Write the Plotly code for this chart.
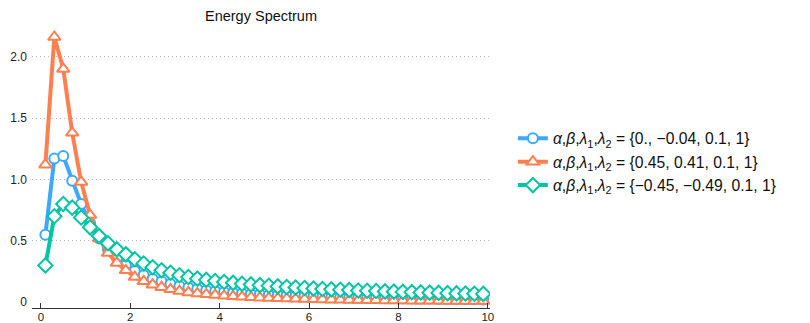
import plotly.graph_objects as go

# Wavenumber samples
k_values = [0.1, 0.3, 0.5, 0.7, 0.9, 1.1, 1.3, 1.5, 1.7, 1.9,
            2.1, 2.3, 2.5, 2.7, 2.9, 3.1, 3.3, 3.5, 3.7, 3.9,
            4.1, 4.3, 4.5, 4.7, 4.9, 5.1, 5.3, 5.5, 5.7, 5.9,
            6.1, 6.3, 6.5, 6.7, 6.9, 7.1, 7.3, 7.5, 7.7, 7.9,
            8.1, 8.3, 8.5, 8.7, 8.9, 9.1, 9.3, 9.5, 9.7, 9.9]

# Energy spectrum for each parameter set
energy_a = [0.55, 1.17, 1.19, 0.99, 0.80, 0.645, 0.52, 0.43, 0.36, 0.30,
            0.255, 0.22, 0.19, 0.168, 0.149, 0.133, 0.12, 0.108, 0.098, 0.090,
            0.083, 0.077, 0.072, 0.067, 0.063, 0.059, 0.056, 0.053, 0.050, 0.048,
            0.046, 0.044, 0.042, 0.040, 0.038, 0.037, 0.035, 0.034, 0.033, 0.032,
            0.031, 0.030, 0.029, 0.028, 0.027, 0.026, 0.025, 0.025, 0.024, 0.023]

energy_b = [1.12, 2.16, 1.90, 1.38, 0.98, 0.71, 0.52, 0.40, 0.32, 0.26,
            0.205, 0.17, 0.143, 0.122, 0.105, 0.091, 0.080, 0.071, 0.064, 0.058,
            0.052, 0.048, 0.044, 0.040, 0.037, 0.034, 0.032, 0.030, 0.028, 0.026,
            0.024, 0.023, 0.021, 0.020, 0.019, 0.018, 0.017, 0.016, 0.015, 0.0145,
            0.014, 0.013, 0.0125, 0.012, 0.0115, 0.011, 0.0105, 0.010, 0.0095, 0.009]

energy_c = [0.30, 0.70, 0.80, 0.77, 0.69, 0.61, 0.54, 0.48, 0.43, 0.39,
            0.35, 0.315, 0.285, 0.26, 0.24, 0.22, 0.205, 0.192, 0.182, 0.173,
            0.165, 0.158, 0.151, 0.145, 0.139, 0.134, 0.129, 0.124, 0.120, 0.116,
            0.112, 0.108, 0.105, 0.102, 0.099, 0.096, 0.093, 0.091, 0.088, 0.086,
            0.084, 0.082, 0.080, 0.078, 0.076, 0.074, 0.072, 0.071, 0.069, 0.068]

series_labels = [
    "<i>α</i>,<i>β</i>,<i>λ</i><sub>1</sub>,<i>λ</i><sub>2</sub> = {0., −0.04, 0.1, 1}",
    "<i>α</i>,<i>β</i>,<i>λ</i><sub>1</sub>,<i>λ</i><sub>2</sub> = {0.45, 0.41, 0.1, 1}",
    "<i>α</i>,<i>β</i>,<i>λ</i><sub>1</sub>,<i>λ</i><sub>2</sub> = {−0.45, −0.49, 0.1, 1}",
]

x_ticks = [0, 2, 4, 6, 8, 10]
y_ticks = [0, 0.5, 1.0, 1.5, 2.0]
y_tick_text = ["0", "0.5", "1.0", "1.5", "2.0"]
grid_levels = [0.5, 1.0, 1.5, 2.0]

colors = ["#3DA8FF", "#FF7F50", "#00C6A4"]
symbols = ["circle", "triangle-up", "diamond"]
sizes = [10, 11, 11]

y_range = [-0.047, 2.217]

fig = go.Figure()
# invisible trace carrying the dotted grid axis, drawn first
fig.add_trace(go.Scatter(x=[None], y=[None], yaxis="y2", showlegend=False,
                         hoverinfo="skip"))
for ys, name, col, sym, sz in zip([energy_a, energy_b, energy_c], series_labels,
                                  colors, symbols, sizes):
    fig.add_trace(go.Scatter(
        x=k_values, y=ys, name=name, mode="lines+markers",
        line=dict(color=col, width=4),
        marker=dict(symbol=sym, size=sz, color="white",
                    line=dict(color=col, width=2)),
    ))

fig.update_layout(
    width=810, height=323,
    margin=dict(l=32, r=320, t=30, b=15, autoexpand=False),
    paper_bgcolor="white", plot_bgcolor="white",
    font=dict(family="Liberation Sans, Arial, sans-serif", size=12, color="#222"),
    title=dict(text="Energy Spectrum", x=(32 + 490) / 2 / 810, xanchor="center",
               y=1 - 16 / 323, yanchor="middle",
               font=dict(size=14.5, color="#111")),
    xaxis=dict(range=[-0.2, 10.05], tickvals=x_ticks, ticks="inside", ticklen=5,
               tickcolor="#333", showline=True, linecolor="#333", linewidth=1,
               showgrid=False, zeroline=False, tickfont=dict(size=11.5),
               ticklabelstandoff=-2, automargin=False),
    yaxis=dict(range=y_range, tickvals=y_ticks, ticktext=y_tick_text,
               showgrid=False, zeroline=False, showline=False, ticks="",
               ticklabelstandoff=4, tickfont=dict(size=12), automargin=False),
    yaxis2=dict(range=y_range, overlaying="y", tickvals=grid_levels,
                showticklabels=False, showgrid=True, gridcolor="#B0B0B0",
                griddash="1px,3px", gridwidth=1.2, zeroline=False, showline=False,
                automargin=False),
    legend=dict(x=1.05, xanchor="left", y=0.525, yanchor="middle",
                font=dict(size=15.7, color="#111"), tracegroupgap=0,
                itemwidth=30, bgcolor="rgba(0,0,0,0)"),
    showlegend=True,
)

fig.write_html("out.html")
